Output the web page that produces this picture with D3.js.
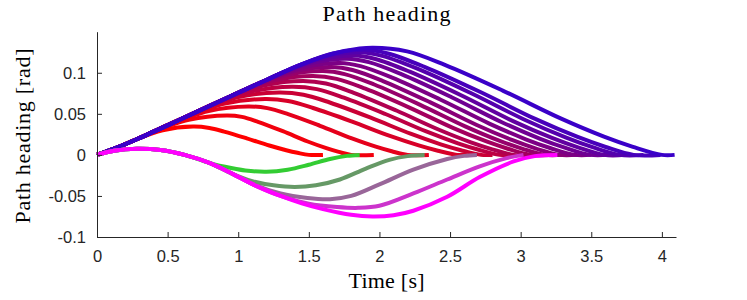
<!DOCTYPE html>
<html lang="en">
<head>
<meta charset="utf-8">
<title>Path heading</title>
<script src="https://cdnjs.cloudflare.com/ajax/libs/d3/7.8.5/d3.min.js"></script>
<style>
  body { margin: 0; background: #fff; }
  .tick text { font-family: "Liberation Sans", Arial, sans-serif; font-size: 16.5px; fill: #262626; }
  .lbl { font-family: "Liberation Serif", "Times New Roman", serif; font-size: 22px; fill: #000; }
</style>
</head>
<body>
<svg id="chart" width="747" height="300"></svg>
<script>
// tick values
var xTicks = [0, 0.5, 1, 1.5, 2, 2.5, 3, 3.5, 4];
var yTicks = [-0.1, -0.05, 0, 0.05, 0.1];

// common rising part shared by the red-blue family (also the top curve)
var rampPts = [[0,0],[0.15,0.0095],[0.3,0.0205],[0.6,0.044],[0.9,0.0677],[1.2,0.0912],[1.44,0.1095],[1.6,0.1195],[1.75,0.1265],[1.95,0.1305]];

// each red-blue curve after it leaves the common part [t, heading]
var upperPts = [
  [[0.25,0.017],[0.465,0.0300],[0.68,0.0345],[0.796,0.0328],[0.90,0.0284],[1.06,0.0202],[1.22,0.0114],[1.34,0.0057],[1.42,0.0025],[1.50,0],[1.60,0]],
  [[0.38,0.0268],[0.65,0.0427],[0.92,0.048],[1.026,0.0463],[1.14,0.0403],[1.316,0.0288],[1.492,0.0163],[1.624,0.0082],[1.712,0.0036],[1.80,0],[1.96,0]],
  [[0.51,0.037],[0.79,0.0535],[1.07,0.059],[1.206,0.0569],[1.353,0.0496],[1.579,0.0354],[1.805,0.0201],[1.974,0.0100],[2.087,0.0044],[2.20,0],[2.35,0]],
  [[0.62,0.0457],[0.905,0.0624],[1.19,0.068],[1.353,0.0656],[1.53,0.0571],[1.802,0.0408],[2.074,0.0231],[2.278,0.0116],[2.414,0.0051],[2.55,0],[2.62,0]],
  [[0.73,0.0543],[1.01,0.0706],[1.29,0.076],[1.462,0.0733],[1.648,0.0638],[1.934,0.0456],[2.22,0.0258],[2.434,0.0129],[2.577,0.0057],[2.72,0],[2.80,0]],
  [[0.815,0.061],[1.10,0.0775],[1.38,0.083],[1.556,0.0801],[1.748,0.0697],[2.042,0.0498],[2.336,0.0282],[2.556,0.0141],[2.703,0.0062],[2.85,0],[2.95,0]],
  [[0.914,0.0687],[1.187,0.0847],[1.46,0.090],[1.621,0.0869],[1.818,0.0756],[2.12,0.054],[2.422,0.0306],[2.648,0.0153],[2.799,0.0068],[2.95,0],[3.07,0]],
  [[0.995,0.0751],[1.26,0.0908],[1.53,0.096],[1.697,0.0926],[1.90,0.0806],[2.212,0.0576],[2.524,0.0326],[2.758,0.0163],[2.914,0.0072],[3.07,0],[3.20,0]],
  [[1.078,0.0816],[1.34,0.0969],[1.60,0.102],[1.753,0.0984],[1.963,0.0857],[2.285,0.0612],[2.607,0.0347],[2.848,0.0173],[3.009,0.0077],[3.17,0],[3.30,0]],
  [[1.147,0.087],[1.40,0.102],[1.66,0.107],[1.809,0.1033],[2.025,0.0899],[2.357,0.0642],[2.689,0.0364],[2.938,0.0182],[3.104,0.008],[3.27,0],[3.40,0]],
  [[1.213,0.0922],[1.47,0.1071],[1.72,0.112],[1.866,0.1081],[2.09,0.0941],[2.434,0.0672],[2.778,0.0381],[3.036,0.019],[3.208,0.0084],[3.38,0],[3.50,0]],
  [[1.29,0.0983],[1.53,0.1123],[1.77,0.117],[1.924,0.1129],[2.155,0.0983],[2.511,0.0702],[2.867,0.0398],[3.134,0.0199],[3.312,0.0088],[3.49,0],[3.62,0]],
  [[1.342,0.1023],[1.58,0.1163],[1.82,0.121],[1.971,0.1168],[2.21,0.1016],[2.578,0.0726],[2.946,0.0411],[3.222,0.0206],[3.406,0.0091],[3.59,0],[3.74,0]],
  [[1.405,0.1073],[1.63,0.1206],[1.86,0.125],[2.019,0.1206],[2.268,0.105],[2.65,0.075],[3.032,0.0425],[3.318,0.0213],[3.509,0.0094],[3.70,0],[3.87,0]],
  [[1.44,0.1095],[1.67,0.1234],[1.90,0.128],[2.06,0.1235],[2.315,0.1075],[2.711,0.0768],[3.107,0.0435],[3.404,0.0218],[3.602,0.0096],[3.80,0],[3.99,0]],
  [[2.196,0.126],[2.463,0.1096],[2.873,0.0783],[3.283,0.0444],[3.59,0.0222],[3.795,0.0098],[4.0,0],[4.09,0]]
];

// magenta curve, the others of the green-magenta family leave it
var basePts = [[0,0],[0.12,0.005],[0.28,0.0075],[0.45,0.006],[0.62,0.0],[0.8,-0.010],[0.97,-0.024],[1.13,-0.038],[1.3,-0.050],[1.45,-0.059],[1.6,-0.066],[1.8,-0.073],[1.95,-0.075],[2.1,-0.0735],[2.24,-0.068],[2.48,-0.051],[2.71,-0.027],[2.95,-0.008],[3.1,-0.0015],[3.26,0]];

var lowerPts = [
  [[0.8,-0.010],[0.95,-0.016],[1.05,-0.019],[1.2,-0.0205],[1.35,-0.018],[1.5,-0.012],[1.65,-0.005],[1.77,-0.0012],[1.86,0]],
  [[0.95,-0.0225],[1.1,-0.032],[1.25,-0.037],[1.4,-0.039],[1.55,-0.037],[1.72,-0.030],[1.9,-0.017],[2.07,-0.006],[2.2,-0.0015],[2.32,0]],
  [[1.1,-0.0355],[1.3,-0.047],[1.49,-0.0525],[1.65,-0.054],[1.8,-0.050],[2.0,-0.036],[2.24,-0.018],[2.48,-0.005],[2.6,-0.0012],[2.69,0]],
  [[1.3,-0.050],[1.5,-0.0595],[1.7,-0.0635],[1.85,-0.0645],[2.0,-0.062],[2.24,-0.047],[2.48,-0.030],[2.71,-0.014],[2.9,-0.004],[3.02,0]]
];

var svg = d3.select("#chart");
var plotLeft = 97, plotRight = 676, plotTop = 31.7, plotBottom = 237;

var x = d3.scaleLinear().domain([0, 4.1]).range([plotLeft, plotRight]);
var y = d3.scaleLinear().domain([-0.1, 0.15]).range([plotBottom, plotTop]);

var line = d3.line()
    .x(function(d) { return x(d[0]); })
    .y(function(d) { return y(d[1]); })
    .curve(d3.curveCatmullRom.alpha(0.5));

function joinWith(common, own) {
    var start = own[0][0];
    return common.filter(function(p) { return p[0] < start - 0.02; }).concat(own);
}

var redBlue = d3.interpolateRgb("#ff0000", "#3a00c8");
var greenMag = d3.interpolateRgb("#33cc33", "#ff00ff");

var plot = svg.append("g");

upperPts.forEach(function(pts, i) {
    plot.append("path")
        .attr("d", line(joinWith(rampPts, pts)))
        .attr("fill", "none")
        .attr("stroke", redBlue(i / (upperPts.length - 1)))
        .attr("stroke-width", 4);
});

var lowerAll = lowerPts.map(function(pts) { return joinWith(basePts, pts); });
lowerAll.push(basePts);
lowerAll.forEach(function(pts, i) {
    plot.append("path")
        .attr("d", line(pts))
        .attr("fill", "none")
        .attr("stroke", greenMag(i / (lowerAll.length - 1)))
        .attr("stroke-width", 4);
});

// axes, ticks pointing inward, no box
svg.append("g")
    .attr("transform", "translate(0," + plotBottom + ")")
    .call(d3.axisBottom(x).tickValues(xTicks).tickFormat(d3.format("~g"))
        .tickSize(-5).tickSizeOuter(0).tickPadding(13));
svg.append("g")
    .attr("transform", "translate(" + plotLeft + ",0)")
    .call(d3.axisLeft(y).tickValues(yTicks).tickFormat(function(d) { return String(d); })
        .tickSize(-5).tickSizeOuter(0).tickPadding(11));

svg.selectAll(".domain, .tick line").attr("stroke", "#262626");

svg.append("text").attr("class", "lbl")
    .attr("x", 386.5).attr("y", 21)
    .attr("text-anchor", "middle")
    .attr("textLength", 128).attr("lengthAdjust", "spacing")
    .text("Path heading");

svg.append("text").attr("class", "lbl")
    .attr("x", 386.5).attr("y", 288)
    .attr("text-anchor", "middle")
    .attr("textLength", 76).attr("lengthAdjust", "spacing")
    .text("Time [s]");

svg.append("text").attr("class", "lbl")
    .attr("transform", "translate(30,136) rotate(-90)")
    .attr("text-anchor", "middle")
    .attr("textLength", 175).attr("lengthAdjust", "spacing")
    .text("Path heading [rad]");
</script>
</body>
</html>
